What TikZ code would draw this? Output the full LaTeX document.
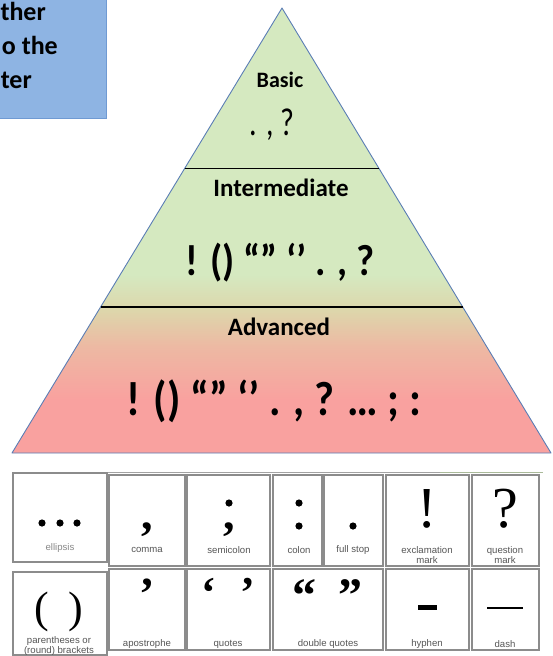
\documentclass[tikz,border=0pt]{standalone}
\usepackage{graphicx}
\usepackage{fontspec}
\setmainfont{Carlito}
\newfontfamily\symfont{Liberation Serif}
\newfontfamily\labfont{Liberation Sans}
\usetikzlibrary{calc}

\definecolor{boxblue}{HTML}{8EB4E3}
\definecolor{boxedge}{HTML}{6F9AD3}
\definecolor{pyredge}{HTML}{5A7DB5}
\definecolor{pyrgreen}{HTML}{D5E9C0}
\definecolor{pyrtan}{HTML}{DDD6AB}
\definecolor{pyrrose}{HTML}{EDB9A3}
\definecolor{pyrpink}{HTML}{F9A19F}
\definecolor{cellgray}{HTML}{8C8C8C}
\definecolor{labgray}{HTML}{555555}

\pgfdeclareverticalshading{pyramid}{100bp}{color(0bp)=(pyrpink); color(25bp)=(pyrpink); color(31bp)=(pyrpink); color(37bp)=(pyrrose); color(41bp)=(pyrtan); color(45bp)=(pyrgreen); color(100bp)=(pyrgreen)}

\tikzset{
  note/.style={font=\fontsize{26}{29}\selectfont\bfseries, inner sep=0pt, anchor=base east},
  level/.style={font=\fontsize{25}{28}\selectfont\bfseries, inner sep=0pt, anchor=base},
  marks/.style={font=\fontsize{#1}{#1}\selectfont\bfseries, inner sep=0pt, anchor=base},
  cell/.style={draw=cellgray, line width=1.3pt},
  sym/.style={font=\symfont\fontsize{#1}{#1}\selectfont, inner sep=0pt, anchor=base},
  bsym/.style={font=\symfont\bfseries\fontsize{#1}{#1}\selectfont, inner sep=0pt, anchor=base},
  dot/.style={fill=black, radius=3.6},
  lab/.style={font=\labfont\fontsize{9.6}{9.6}\selectfont, text=labgray, inner sep=0pt, align=center}
}

\begin{document}
\begin{tikzpicture}[x=1pt, y=-1pt]
\useasboundingbox (0,0) rectangle (552,656);

% note box, cut at the page edge
\draw[fill=boxblue, draw=boxedge] (-2,-2) rectangle (106,118);
\node[note] (note1) at (46,20) {ther};
\node[note] (note2) at (58,54) {o the};
\node[note] (note3) at (32,88) {ter};

% pyramid
\coordinate (apex) at (282,8);
\coordinate (bl) at (12,453);
\coordinate (br) at (551,453);
\shade[shading=pyramid] (apex) -- (br) -- (bl) -- cycle;
\draw[pyredge, line width=0.9pt, line join=round] (apex) -- (br) -- (bl) -- cycle;

\coordinate (l1) at ($(apex)!0.36!(bl)$);
\coordinate (r1) at ($(apex)!0.36!(br)$);
\coordinate (l2) at ($(apex)!0.672!(bl)$);
\coordinate (r2) at ($(apex)!0.672!(br)$);
\draw[line width=1.1pt] (l1) -- (r1);
\draw[line width=1.1pt] (l2) -- (r2);

\node[level, font=\fontsize{22}{25}\selectfont\bfseries] (basic) at (280,87) {Basic};
\node[marks=30, font=\fontsize{30}{30}\selectfont\mdseries] (basicmarks) at (272,135) {\scalebox{1}[1.3]{. , ?}};
\node[level] (inter) at (281,196) {Intermediate};
\node[marks=39] (intermarks) at (280,275) {\scalebox{1}[1.12]{! () “” ‘’ . , ?}};
\node[level] (adv) at (279,335) {Advanced};
\node[marks=43] (advmarks) at (274,415) {\scalebox{1}[1.12]{! () “” ‘’ . , ? … ; :}};

% punctuation chart
\draw[cellgray!80, line width=0.8pt] (107,472) -- (440,472);
\draw[pyrgreen!80!black, line width=0.6pt] (440,472) -- (543,472);
\foreach \xa/\ya/\xb/\yb in {13/473/107/562, 109/475/185/566, 187/475/270/566, 273/475/322/566,
  324/475/383/566, 386/475/469/566, 472/475/539/566,
  13/572/107/655, 109/569/185/650, 187/569/270/650, 273/569/383/650, 386/569/469/650, 472/569/539/650}
  \draw[cell] (\xa,\ya) rectangle (\xb,\yb);

% first row
\fill[dot] (42,523) circle;
\fill[dot] (60,523) circle;
\fill[dot] (77,523) circle;
\node[lab, text=labgray!70] (ellipsislab) at (60,548) {ellipsis};
\node[bsym=46] (comma) at (147,529) {,};
\node[lab] (commalab) at (147,550) {comma};
\fill[dot] (229,503) circle;
\node[bsym=46] (semicolon) at (229,529) {,};
\node[lab] (semicolonlab) at (229,550) {semicolon};
\fill[dot] (299,503) circle;
\fill[dot] (299,526) circle;
\node[lab] (colonlab) at (299,550) {colon};
\fill[dot] (353,526) circle;
\node[lab] (fullstoplab) at (353,550) {full stop};
\node[sym=58] (exclam) at (427,527) {!};
\node[lab] (exclamlab) at (427,555) {exclamation\\mark};
\node[sym=58] (question) at (505,527) {?};
\node[lab] (questionlab) at (505,555) {question\\mark};

% second row
\node[sym=44] (parens) at (59,622) {(\hspace{0.45em})};
\node[lab] (parenslab) at (59,646) {parentheses or\\(round) brackets};
\node[bsym=46] (apostrophe) at (147,609) {’};
\node[lab] (apostrophelab) at (147,644) {apostrophe};
\node[bsym=44] (lquote) at (209,607) {‘};
\node[bsym=44] (rquote) at (248,607) {’};
\node[lab] (quoteslab) at (228,644) {quotes};
\node[bsym=48] (ldquote) at (304,611) {“};
\node[bsym=48] (rdquote) at (350,611) {”};
\node[lab] (dquoteslab) at (328,644) {double quotes};
\fill (418,605) rectangle (437,610);
\node[lab] (hyphenlab) at (427,644) {hyphen};
\fill (487,607) rectangle (523,609);
\node[lab] (dashlab) at (505,644) {dash};
\end{tikzpicture}
\end{document}
